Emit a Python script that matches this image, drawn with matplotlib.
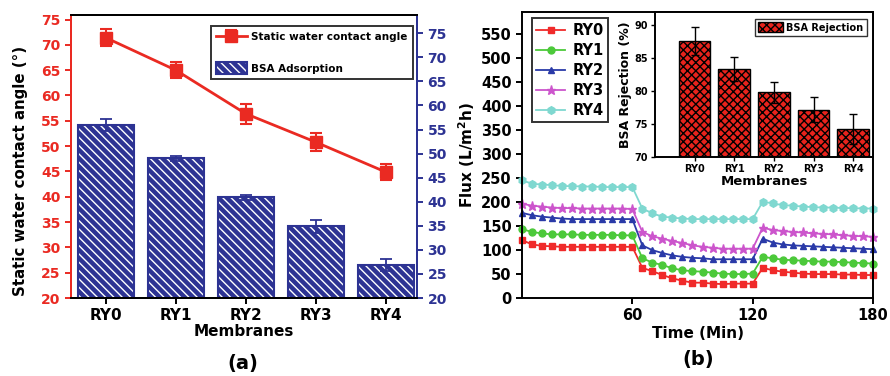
import matplotlib
matplotlib.use("Agg")
import matplotlib.pyplot as plt
from matplotlib.legend_handler import HandlerTuple

# ---------------- data ----------------
categories = ['RY0', 'RY1', 'RY2', 'RY3', 'RY4']
contact_angle = [71.4, 65.0, 56.4, 50.8, 44.9]
contact_angle_err = [1.7, 1.6, 2.0, 1.7, 1.6]
bsa_adsorption = [55.9, 49.0, 40.9, 34.9, 26.9]
bsa_adsorption_err = [1.2, 0.5, 0.5, 1.4, 1.25]

time_min = [5, 10, 15, 20, 25, 30, 35, 40, 45, 50, 55, 60,
            65, 70, 75, 80, 85, 90, 95, 100, 105, 110, 115, 120,
            125, 130, 135, 140, 145, 150, 155, 160, 165, 170, 175, 180]
flux_ry0 = [120, 111, 108, 107, 106, 106, 106, 106, 106, 106, 106, 106,
            62, 55, 47, 40, 35, 31, 31, 29, 28, 29, 29, 29,
            62, 57, 54, 52, 50, 49, 49, 49, 48, 48, 47, 47]
flux_ry1 = [143, 137, 134, 132, 132, 132, 131, 131, 131, 131, 130, 130,
            82, 73, 68, 61, 57, 55, 54, 52, 50, 49, 49, 50,
            85, 82, 79, 78, 77, 76, 75, 75, 74, 73, 72, 71]
flux_ry2 = [177, 172, 169, 167, 165, 164, 164, 164, 164, 164, 164, 164,
            109, 99, 93, 88, 85, 83, 82, 80, 80, 80, 80, 80,
            123, 115, 111, 109, 108, 107, 106, 105, 104, 103, 102, 101]
flux_ry3 = [196, 192, 190, 188, 187, 187, 186, 186, 186, 186, 186, 185,
            137, 128, 123, 118, 114, 109, 106, 104, 102, 102, 102, 102,
            146, 141, 139, 137, 136, 134, 133, 132, 130, 129, 128, 127]
flux_ry4 = [245, 238, 236, 235, 233, 233, 232, 232, 231, 231, 231, 231,
            186, 176, 169, 167, 165, 164, 164, 164, 164, 164, 164, 164,
            200, 197, 193, 192, 190, 189, 188, 188, 187, 187, 186, 186]

bsa_rejection = [87.6, 83.4, 79.8, 77.2, 74.3]
bsa_rejection_err = [2.1, 1.8, 1.6, 1.9, 2.3]

# ---------------- style ----------------
plt.rcParams['font.family'] = ['DejaVu Sans']
plt.rcParams['font.weight'] = 'bold'
plt.rcParams['axes.labelweight'] = 'bold'
plt.rcParams['axes.linewidth'] = 1.4
plt.rcParams['hatch.linewidth'] = 1.0

RED = '#ea2a22'
BLUE = '#2d3393'

fig = plt.figure(figsize=(8.9, 3.76), dpi=100)

# ================= panel (a) =================
ax = fig.add_axes([71/890, 1-298/376, (417-71)/890, (298-15)/376])
axr = ax.twinx()

x = list(range(len(categories)))
bars_fill = axr.bar(x, bsa_adsorption, width=0.8, color=BLUE, edgecolor='white',
                    hatch='\\\\\\\\', linewidth=0, zorder=2)
bars_edge = axr.bar(x, bsa_adsorption, width=0.8, fill=False, edgecolor=BLUE,
                    linewidth=1.5, zorder=3)
axr.errorbar(x, bsa_adsorption, yerr=bsa_adsorption_err, fmt='none', ecolor=BLUE,
             elinewidth=1.3, capsize=4, capthick=1.3, zorder=4)
axr.set_ylim(20, 78.8)
axr.set_yticks(range(20, 76, 5))
axr.tick_params(axis='y', colors=BLUE, labelsize=10, width=1.4, length=4, direction='out')

ln = ax.errorbar(x, contact_angle, yerr=contact_angle_err, color=RED, marker='s',
                 markersize=9, linewidth=2, elinewidth=1.5, capsize=4, capthick=1.5, zorder=5)
ax.set_ylim(20, 75.9)
ax.set_yticks(range(20, 76, 5))
ax.set_xlim(-0.5, 4.45)
ax.set_xticks(x)
ax.set_xticklabels(categories)
ax.tick_params(axis='y', colors=RED, labelsize=10, width=1.4, length=4, direction='out')
ax.tick_params(axis='x', labelsize=11, width=1.4, length=4, direction='out', pad=3)
ax.set_zorder(axr.get_zorder() + 1)
ax.patch.set_visible(False)

for a in (ax, axr):
    a.spines['left'].set_color(RED)
    a.spines['right'].set_color(BLUE)
    a.spines['top'].set_color('black')
    a.spines['bottom'].set_color('black')
for lbl in ax.get_yticklabels():
    lbl.set_color(RED)
for lbl in axr.get_yticklabels():
    lbl.set_color(BLUE)

ax.set_ylabel('Static water contact angle (°)', fontsize=10.8)
ax.yaxis.set_label_coords(-0.124, 0.45)
ax.set_xlabel('Membranes', fontsize=11, labelpad=1)

leg = ax.legend([ln, (bars_fill[0], bars_edge[0])],
                ['Static water contact angle', 'BSA Adsorption'],
                handler_map={tuple: HandlerTuple(ndivide=1, pad=0)},
                loc='upper right', bbox_to_anchor=(0.988, 0.962), borderaxespad=0,
                fontsize=7.5, frameon=True, fancybox=False, edgecolor='black',
                handlelength=3.0, handleheight=1.35, labelspacing=1.9,
                handletextpad=0.4, borderpad=0.5)
leg.get_frame().set_linewidth(1.4)

fig.text(243/890, 1-363/376, '(a)', ha='center', va='center', fontsize=14)

# ================= panel (b) =================
ax2 = fig.add_axes([522/890, 1-297.5/376, (873-522)/890, (297.5-12)/376])
series = [
    ('RY0', flux_ry0, '#f02a2a', 's', 4.5),
    ('RY1', flux_ry1, '#4cc93a', 'o', 5),
    ('RY2', flux_ry2, '#2a3aa8', '^', 5),
    ('RY3', flux_ry3, '#cc55cc', '*', 6.5),
    ('RY4', flux_ry4, '#7fd8d0', 'h', 5.5),
]
for name, vals, col, mk, ms in series:
    ax2.plot(time_min, vals, color=col, marker=mk, markersize=ms, linewidth=1.3,
             label=name, clip_on=False)
ax2.set_xlim(5, 180)
ax2.set_ylim(0, 597)
ax2.set_xticks([60, 120, 180])
ax2.set_yticks(range(0, 551, 50))
ax2.tick_params(labelsize=10.5, width=1.4, length=4, direction='out')
ax2.set_xlabel('Time (Min)', fontsize=11, labelpad=2)
ax2.set_ylabel('Flux (L/m$^\\mathbf{2}$h)', fontsize=11, labelpad=3)
leg2 = ax2.legend(loc='upper left', bbox_to_anchor=(0.028, 0.978), borderaxespad=0,
                  fontsize=10.5, frameon=True, fancybox=False, edgecolor='black',
                  handlelength=2.0, labelspacing=0.35, handletextpad=0.5, borderpad=0.3)
leg2.get_frame().set_linewidth(1.4)

fig.text(698/890, 1-360/376, '(b)', ha='center', va='center', fontsize=14)

# inset
axi = fig.add_axes([655/890, 1-157/376, (873-655)/890, (157-12)/376])
bi_fill = axi.bar(x, bsa_rejection, width=0.8, color='#e8231c', edgecolor='black',
                  hatch='xxxx', linewidth=0, zorder=2)
bi_edge = axi.bar(x, bsa_rejection, width=0.8, fill=False, edgecolor='black',
                  linewidth=1.0, zorder=3)
axi.errorbar(x, bsa_rejection, yerr=bsa_rejection_err, fmt='none', ecolor='black',
             elinewidth=1.0, capsize=3, capthick=1.0, zorder=4)
axi.set_xlim(-1, 4.5)
axi.set_ylim(70, 92)
axi.set_yticks([70, 75, 80, 85, 90])
axi.set_xticks(x)
axi.set_xticklabels(categories)
axi.tick_params(labelsize=7, width=1.0, length=3, direction='out', pad=2)
axi.set_ylabel('BSA Rejection (%)', fontsize=9, labelpad=2)
axi.set_xlabel('Membranes', fontsize=9.5, labelpad=1)
legi = axi.legend([(bi_fill[0], bi_edge[0])], ['BSA Rejection'],
                  handler_map={tuple: HandlerTuple(ndivide=1, pad=0)},
                  loc='upper right', bbox_to_anchor=(0.972, 0.952), borderaxespad=0,
                  fontsize=7, frameon=True, fancybox=False, edgecolor='black',
                  handlelength=2.6, handleheight=1.2, handletextpad=0.3, borderpad=0.35)
legi.get_frame().set_linewidth(1.0)

fig.savefig('out.png', dpi=100)
